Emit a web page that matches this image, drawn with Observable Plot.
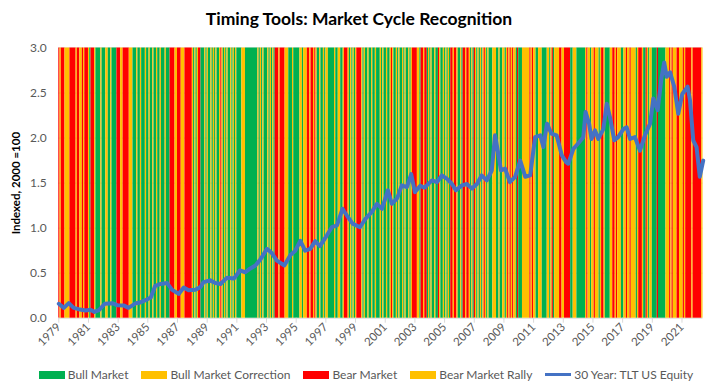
<!DOCTYPE html>
<html><head><meta charset="utf-8">
<script src="https://cdn.jsdelivr.net/npm/d3@7"></script>
<script src="https://cdn.jsdelivr.net/npm/@observablehq/plot@0.6"></script>
<style>
body{margin:0;background:#fff;font-family:Lato,"Open Sans",sans-serif;}
#wrap{width:718px;height:391px;position:relative;overflow:hidden;background:#fff}
#title{height:36px;line-height:38px;text-align:center;font-weight:bold;font-size:17.5px;color:#000}
#chart svg{display:block}
#chart svg [aria-label="y-axis label"] text, #chart svg g[aria-label="y-axis label"]{font-weight:bold;fill:#000;font-size:11.5px}
#legend{position:absolute;left:0;top:367px;width:718px;display:flex;justify-content:center;align-items:center;gap:13px;font-size:12px;color:#595959;padding-left:14px;box-sizing:border-box}
.li{display:flex;align-items:center;gap:3px;white-space:nowrap}
.sw{width:26px;height:8px;display:inline-block}
.ln{width:26px;height:3px;display:inline-block;background:#4472C4}
</style></head>
<body><div id="wrap">
<div id="title">Timing Tools: Market Cycle Recognition</div>
<div id="chart"></div>
<div id="legend"></div>
</div>
<script>
// Regime per month, one string per year starting 1979 (G = green, Y = yellow, R = red)
const regimeStartYear = 1979;
const regimeByYear = [
"RYRRRYYYYRRR","RRYRRYYRYRRR","YGRRRYGGGGYG","GGYYGGYGGGGR","RRYYRRRRRYYY",
"GGGYGGYGGGYG","GYGGYGGYGGYG","GGYGGGRRRRYY","RRRYYYRRRRRR","YGYGYRRGGGYG",
"YGGYGYGYGGYR","YGYGYGGYGYGY","GGGGYYYGGGGG","GGGGGYGYGYGG","GYGYGYGRRRYR",
"RRRYYYGGGYGG","GGGYYGYYYRRY","RRYRYGGYGGYG","YYGGGGGYGGYY","GGYRRRYGYGYG",
"YRRRRYGYGGYG","GYGGYGGGYGYG","GYGGYRYGGYGY","GGYGYGGYGYRR","RRYYGRRYRRGY",
"GYGGYGGRYGGY","GYGYGRRYRRYG","GYGRRYRRYGYG","RYGYGYGYRYGY","GGGYYYGGYGGY",
"YGYRYRYRYYGR","GGGYYYYYYRYR","YYGGYYYGGGGY","YGYRGYYYYRRY","YRRRRRGGYYYG",
"GGGGGGYRYYGY","YRYYYGYRRYGG","GGYYRRYRYYYG","GYYRYYRYYYYG","YRRRYGGRYGYY",
"GGGGRGGGGGGY","YYRYRYYYRRYY","YRYRRRRRYRRR","RRRRY"
];
const regimeLabels = ["Bull Market","Bull Market Correction","Bear Market","Bear Market Rally"];
const regimeColors = ["#00B050","#FFC000","#FF0000","#FFC000"];

// 30 Year: TLT US Equity (indexed)
const tltYear = [1979.0,1979.34,1979.67,1980.0,1980.34,1980.8,1981.13,1981.4,1981.7,1982.1,1982.6,1982.93,1983.4,1983.7,1984.2,1984.5,1984.84,1985.2,1985.5,1985.85,1986.3,1986.64,1987.08,1987.42,1987.75,1988.2,1988.54,1988.76,1989.2,1989.55,1989.9,1990.34,1990.8,1991.2,1991.57,1991.8,1992.25,1992.58,1993.03,1993.32,1993.7,1994.2,1994.6,1994.94,1995.28,1995.6,1995.95,1996.28,1996.6,1997.07,1997.4,1997.75,1998.12,1998.42,1998.8,1999.3,1999.65,2000.1,2000.44,2000.78,2001.18,2001.45,2001.8,2002.12,2002.46,2002.75,2003.0,2003.36,2003.65,2004.15,2004.48,2004.82,2005.15,2005.5,2005.77,2006.17,2006.5,2006.84,2007.18,2007.5,2007.85,2008.18,2008.4,2008.6,2008.8,2009.08,2009.4,2009.75,2010.1,2010.44,2010.77,2011.1,2011.45,2011.66,2011.9,2012.2,2012.55,2012.9,2013.2,2013.34,2013.68,2014.0,2014.35,2014.5,2014.74,2014.9,2015.14,2015.36,2015.7,2015.93,2016.15,2016.44,2016.7,2017.05,2017.27,2017.5,2017.83,2018.17,2018.5,2018.85,2019.07,2019.36,2019.63,2019.8,2019.97,2020.2,2020.48,2020.75,2021.02,2021.38,2021.54,2021.76,2021.98,2022.2,2022.43];
const tltValue = [0.16,0.115,0.167,0.115,0.10,0.085,0.093,0.07,0.09,0.16,0.167,0.145,0.14,0.115,0.167,0.175,0.20,0.23,0.36,0.38,0.39,0.315,0.27,0.34,0.31,0.315,0.345,0.40,0.42,0.39,0.38,0.45,0.44,0.53,0.51,0.54,0.585,0.65,0.77,0.73,0.64,0.585,0.70,0.75,0.86,0.75,0.77,0.855,0.80,0.92,1.01,1.03,1.215,1.14,1.05,1.01,1.10,1.18,1.27,1.215,1.42,1.27,1.33,1.475,1.455,1.60,1.40,1.47,1.45,1.53,1.51,1.585,1.55,1.49,1.42,1.475,1.49,1.44,1.49,1.585,1.53,1.64,2.03,1.845,1.64,1.66,1.51,1.57,1.75,1.57,1.585,2.01,2.03,1.90,2.16,2.05,2.03,1.81,1.73,1.715,1.88,1.94,2.01,2.29,2.16,1.99,2.085,1.99,2.10,2.38,2.23,1.975,2.01,2.10,2.12,1.99,2.01,1.86,2.03,2.16,2.44,2.31,2.68,2.84,2.68,2.73,2.57,2.27,2.49,2.57,2.42,1.975,1.90,1.57,1.75];

const yTicks = [0,0.5,1.0,1.5,2.0,2.5,3.0];
const xTicks = [1979,1981,1983,1985,1987,1989,1991,1993,1995,1997,1999,2001,2003,2005,2007,2009,2011,2013,2015,2017,2019,2021];

// build month table
const months = [];
let lastNonYellow = "R";
regimeByYear.forEach((s, yi) => {
  [...s].forEach((c, mi) => {
    let label;
    if (c === "G") { label = regimeLabels[0]; lastNonYellow = "G"; }
    else if (c === "R") { label = regimeLabels[2]; lastNonYellow = "R"; }
    else label = lastNonYellow === "G" ? regimeLabels[1] : regimeLabels[3];
    months.push({start: regimeStartYear + yi + mi / 12, code: c, label});
  });
});
// merge consecutive months of same colour
const runs = [];
months.forEach(m => {
  const last = runs[runs.length - 1];
  const end = m.start + 1 / 12;
  if (last && last.code === m.code) last.x2 = end;
  else runs.push({x1: m.start, x2: end, code: m.code, label: m.label});
});
const xEnd = months[months.length - 1].start + 1 / 12;
const yTop = d3.max(yTicks);
const line = tltYear.map((x, i) => ({x, y: tltValue[i]}));

const chart = Plot.plot({
  width: 718,
  height: 320,
  marginTop: 11.5,
  marginBottom: 38.3,
  marginLeft: 58.3,
  marginRight: 15.5,
  style: {fontFamily: "Lato, 'Open Sans', sans-serif", fontSize: "12px", color: "#595959", background: "#fff"},
  x: {domain: [regimeStartYear, xEnd]},
  y: {domain: [0, yTop]},
  color: {domain: regimeLabels, range: regimeColors},
  marks: [
    Plot.gridY(yTicks, {stroke: "#d9d9d9", strokeOpacity: 1}),
    Plot.rectY(runs, {x1: "x1", x2: "x2", y1: 0, y2: yTop, fill: "label"}),
    Plot.line(line, {x: "x", y: "y", stroke: "#4472C4", strokeWidth: 4, strokeLinejoin: "round"}),
    Plot.axisY(yTicks, {tickSize: 0, tickPadding: 12, tickFormat: d3.format(".1f"), label: "Indexed, 2000 =100", labelAnchor: "center", labelArrow: "none", labelOffset: 47, fill: "#595959", fontSize: 12}),
    Plot.axisX(xTicks, {tickSize: 5, stroke: "#d9d9d9", tickRotate: -45, tickFormat: d => String(d), label: null, fill: "#595959", fontSize: 11.5, tickPadding: 2})
  ]
});
document.getElementById("chart").appendChild(chart);

const leg = document.getElementById("legend");
regimeLabels.forEach((l, i) => {
  const d = document.createElement("div"); d.className = "li";
  d.innerHTML = `<span class="sw" style="background:${regimeColors[i]}"></span><span>${l}</span>`;
  leg.appendChild(d);
});
const d = document.createElement("div"); d.className = "li";
d.innerHTML = `<span class="ln"></span><span>30 Year: TLT US Equity</span>`;
leg.appendChild(d);
</script>
</body></html>
